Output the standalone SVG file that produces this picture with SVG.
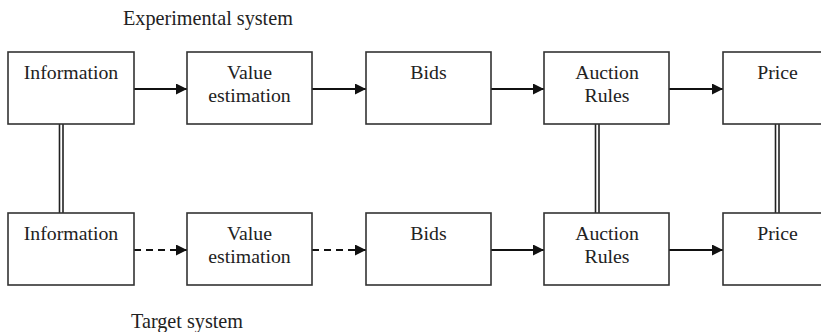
<svg xmlns="http://www.w3.org/2000/svg" width="821" height="332" viewBox="0 0 821 332">
<defs>
<marker id="ah" markerWidth="11" markerHeight="11" refX="11" refY="5.5" orient="auto" markerUnits="userSpaceOnUse">
<path d="M0,0 L11,5.5 L0,11 Z" fill="#111"/>
</marker>
<style>
.box{fill:#fff;stroke:#333;stroke-width:1.6}
.t{font-family:"Liberation Serif","Times New Roman",serif;font-size:19.8px;fill:#222;text-anchor:middle}
.lbl{font-family:"Liberation Serif","Times New Roman",serif;font-size:20.2px;fill:#222}
.c{stroke:#111;stroke-width:2;fill:none}
.d{stroke:#111;stroke-width:2;fill:none;stroke-dasharray:7,5}
.dl{stroke:#222;stroke-width:1.6;fill:none}
</style>
</defs>
<rect width="821" height="332" fill="#fff"/>
<text class="lbl" x="123" y="25">Experimental system</text>
<text class="lbl" x="131" y="328">Target system</text>

<g id="connectors">
<path class="c" d="M134,89 H187" marker-end="url(#ah)"/>
<path class="c" d="M312,89 H366" marker-end="url(#ah)"/>
<path class="c" d="M491,89 H544" marker-end="url(#ah)"/>
<path class="c" d="M669,89 H723" marker-end="url(#ah)"/>
<path class="d" d="M134,250 H187" marker-end="url(#ah)"/>
<path class="d" d="M312,250 H366" marker-end="url(#ah)"/>
<path class="c" d="M491,250 H544" marker-end="url(#ah)"/>
<path class="c" d="M669,250 H723" marker-end="url(#ah)"/>
<path class="dl" d="M59.5,124 V213 M63,124 V213"/>
<path class="dl" d="M595.5,124 V213 M599,124 V213"/>
<path class="dl" d="M775.5,124 V213 M779,124 V213"/>
</g>

<g id="info-exp"><rect class="box" x="8" y="52" width="126" height="72"/><text class="t" x="71" y="79">Information</text></g>
<g id="value-exp"><rect class="box" x="187" y="52" width="125" height="72"/><text class="t" x="249.5" y="79">Value</text><text class="t" x="249.5" y="102">estimation</text></g>
<g id="bids-exp"><rect class="box" x="366" y="52" width="125" height="72"/><text class="t" x="428.5" y="79">Bids</text></g>
<g id="auction-exp"><rect class="box" x="544" y="52" width="125" height="72"/><text class="t" x="607" y="79">Auction</text><text class="t" x="607" y="102">Rules</text></g>
<g id="price-exp"><rect class="box" x="723" y="52" width="125" height="72"/><text class="t" x="777.5" y="79">Price</text></g>

<g id="info-tgt"><rect class="box" x="8" y="213" width="126" height="72"/><text class="t" x="71" y="240">Information</text></g>
<g id="value-tgt"><rect class="box" x="187" y="213" width="125" height="72"/><text class="t" x="249.5" y="240">Value</text><text class="t" x="249.5" y="263">estimation</text></g>
<g id="bids-tgt"><rect class="box" x="366" y="213" width="125" height="72"/><text class="t" x="428.5" y="240">Bids</text></g>
<g id="auction-tgt"><rect class="box" x="544" y="213" width="125" height="72"/><text class="t" x="607" y="240">Auction</text><text class="t" x="607" y="263">Rules</text></g>
<g id="price-tgt"><rect class="box" x="723" y="213" width="125" height="72"/><text class="t" x="777.5" y="240">Price</text></g>
</svg>
